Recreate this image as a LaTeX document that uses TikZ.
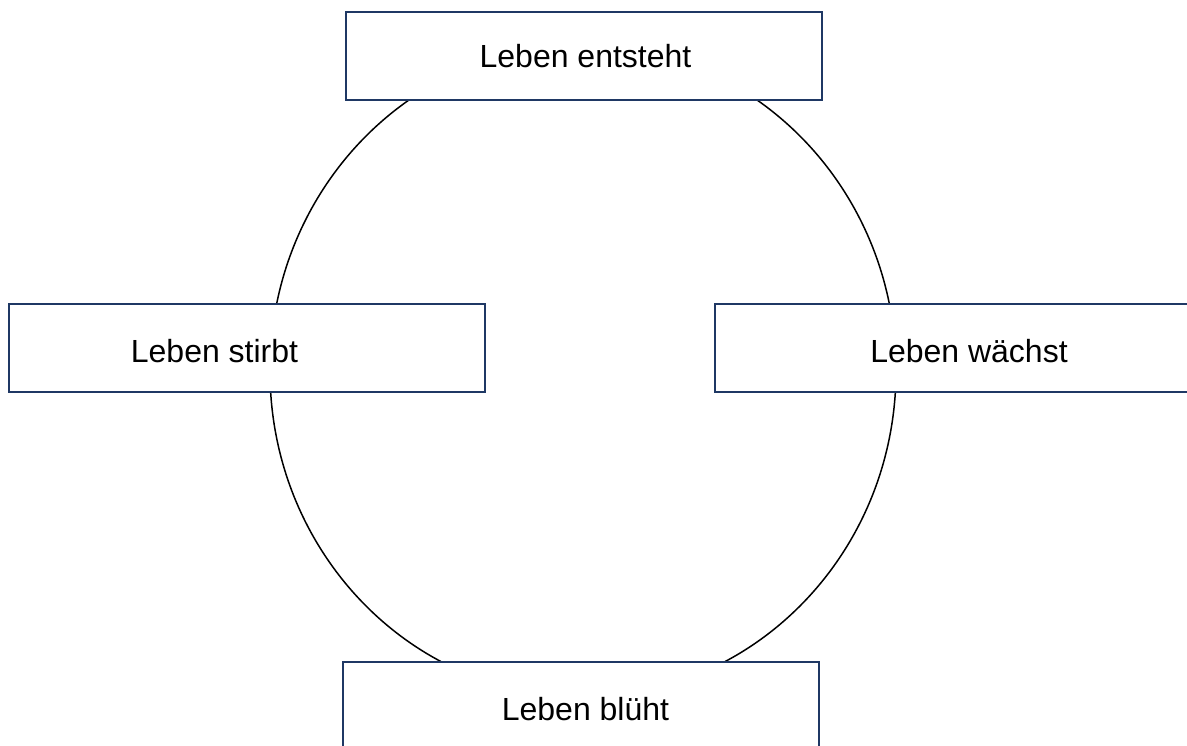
\documentclass[tikz,border=0pt]{standalone}
\usepackage{fontspec}
\setmainfont{Liberation Sans}
\definecolor{boxline}{HTML}{1F3864}
\tikzset{
  stagebox/.style={draw=boxline, line width=2pt, fill=white, rectangle, inner sep=0pt, minimum width=476pt, minimum height=88pt},
  stagetext/.style={anchor=base, inner sep=0pt, font=\fontsize{32}{38}\selectfont, text=black},
  cycle/.style={draw=black, line width=1.5pt}
}
\begin{document}
\begin{tikzpicture}[x=1pt,y=-1pt]
\useasboundingbox (0,0) rectangle (1187,745);
\clip (0,0) rectangle (1187,745);
\fill[white] (0,0) rectangle (1187,745);
\coordinate (c) at (583,371);
\draw[cycle] (c) ellipse [x radius=313pt, y radius=326pt];
\node[stagebox] (top) at (583.5,55.5) {};
\node[stagebox] (left) at (247,347.5) {};
\node[stagebox] (right) at (953,347.5) {};
\node[stagebox] (bottom) at (581,705.5) {};
\node[stagetext] (ttop) at (585.5,67) {Leben entsteht};
\node[stagetext] (tleft) at (214.5,362) {Leben stirbt};
\node[stagetext] (tright) at (969,362) {Leben wächst};
\node[stagetext] (tbottom) at (585.5,720) {Leben blüht};
\end{tikzpicture}
\end{document}
